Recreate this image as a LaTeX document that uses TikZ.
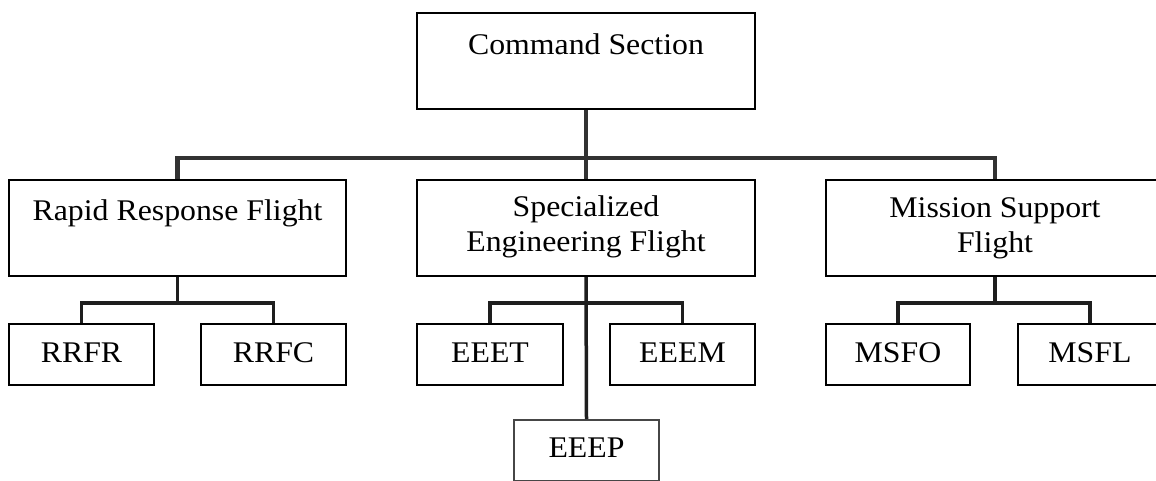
\documentclass[tikz,border=0pt]{standalone}
\usepackage{fontspec}
\setmainfont[FakeStretch=1.06]{Liberation Serif}
\definecolor{busgray}{RGB}{50,50,50}
\definecolor{subgray}{RGB}{30,30,30}
\definecolor{boxgray}{RGB}{70,70,70}
\begin{document}
\begin{tikzpicture}[x=1pt,y=-1pt,
  box/.style={draw=black,line width=2pt,fill=white,inner sep=0pt,minimum height=96pt},
  smallbox/.style={draw=black,line width=2pt,fill=white,inner sep=0pt,minimum height=61pt},
  lbl/.style={anchor=base,inner sep=0pt,align=center,font=\fontsize{30}{34.5}\selectfont},
  bus/.style={draw=busgray,line width=4.5pt,line join=miter},
  subbus/.style={draw=subgray,line width=3.5pt,line join=miter}]
\useasboundingbox (0,0) rectangle (1156,480);
\clip (0,0) rectangle (1156,480);
\fill[white] (0,0) rectangle (1156,480);
% coordinates of bus junctions
\coordinate (topbus) at (586,158);
\coordinate (rb) at (177.5,303);
\coordinate (sb) at (586,303);
\coordinate (mb) at (995,303);
% boxes
\node[box,minimum width=338pt] (cmd) at (586,61) {};
\node[box,minimum width=337pt] (rrf) at (177.5,228) {};
\node[box,minimum width=338pt] (sef) at (586,228) {};
\node[box,minimum width=338pt] (msf) at (995,228) {};
\node[smallbox,minimum width=145pt] (rrfr) at (81.5,354.5) {};
\node[smallbox,minimum width=145pt] (rrfc) at (273.5,354.5) {};
\node[smallbox,minimum width=146pt] (eeet) at (490,354.5) {};
\node[smallbox,minimum width=145pt] (eeem) at (682.5,354.5) {};
\node[smallbox,minimum width=145pt,draw=boxgray] (eeep) at (586.5,450.5) {};
\node[smallbox,minimum width=144pt] (msfo) at (898,354.5) {};
\node[smallbox,minimum width=144pt] (msfl) at (1090,354.5) {};
% connectors
\draw[bus] (cmd.south) -- (sef.north);
\draw[bus] (rrf.north) |- (topbus) -| (msf.north);
\draw[subbus] (rrf.south) -- (rb);
\draw[subbus] (rrfr.north) |- (rb) -| (rrfc.north);
\draw[subbus] (sef.south) -- (eeep.north);
\draw[subbus] (eeet.north) |- (sb) -| (eeem.north);
\draw[subbus] (msf.south) -- (mb);
\draw[subbus] (msfo.north) |- (mb) -| (msfl.north);
% labels
\node[lbl] (tcmd) at (586,54) {Command Section};
\node[lbl] (trrf) at (177.5,220) {Rapid Response Flight};
\node[lbl] (tsef) at (586,251) {Specialized\\Engineering Flight};
\node[lbl] (tmsf) at (995,252) {Mission Support\\Flight};
\node[lbl] (trrfr) at (81.5,362) {RRFR};
\node[lbl] (trrfc) at (273.5,362) {RRFC};
\node[lbl] (teeet) at (490,362) {EEET};
\node[lbl] (teeem) at (682.5,362) {EEEM};
\node[lbl] (teeep) at (586.5,457) {EEEP};
\node[lbl] (tmsfo) at (898,362) {MSFO};
\node[lbl] (tmsfl) at (1090,362) {MSFL};
\end{tikzpicture}
\end{document}
